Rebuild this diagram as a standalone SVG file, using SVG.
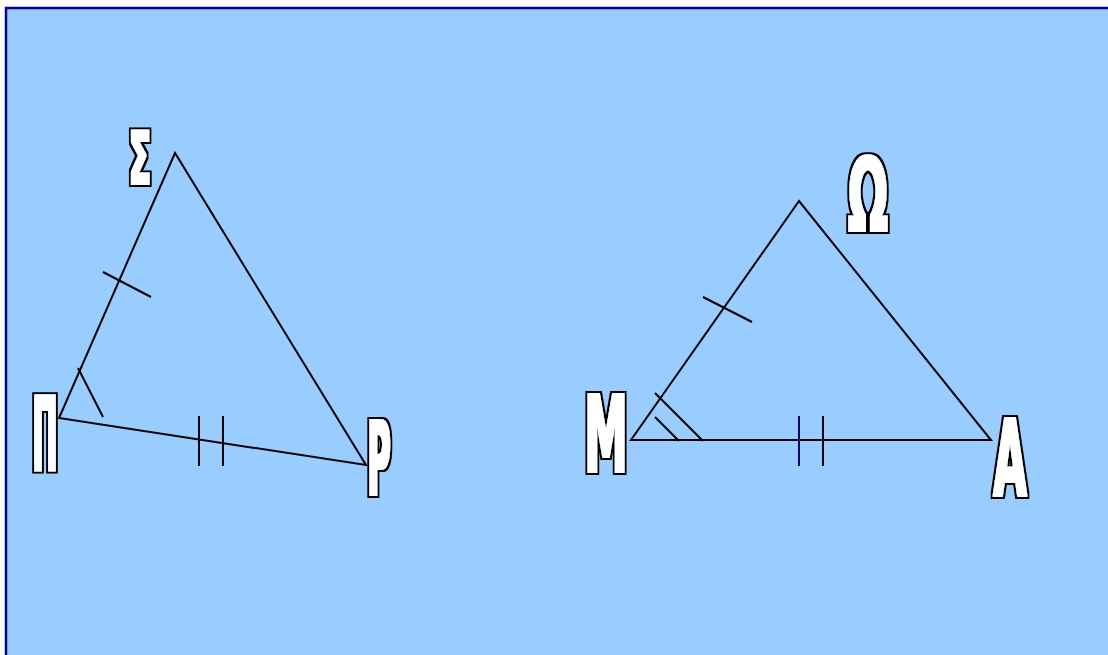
<svg xmlns="http://www.w3.org/2000/svg" width="1108" height="655" viewBox="0 0 1108 655">
<style>
.ln{stroke:#000;stroke-width:2;fill:none;stroke-linecap:butt}
.lbl{font-family:"DejaVu Sans Condensed","DejaVu Sans",sans-serif;font-weight:bold;fill:#fff;filter:url(#fat)}
</style>
<defs>
<filter id="fat" x="-30%" y="-30%" width="160%" height="160%">
<feMorphology in="SourceAlpha" operator="dilate" radius="2.5" result="o"/>
<feFlood flood-color="#000" result="k"/>
<feComposite in="k" in2="o" operator="in" result="ko"/>
<feMorphology in="SourceAlpha" operator="dilate" radius="0.7" result="i"/>
<feFlood flood-color="#fff" result="w"/>
<feComposite in="w" in2="i" operator="in" result="wi"/>
<feMerge><feMergeNode in="ko"/><feMergeNode in="wi"/></feMerge>
</filter>
</defs>
<rect x="0" y="0" width="1108" height="655" fill="#fff"/>
<rect x="6" y="8" width="1110" height="660" fill="#99CCFF" stroke="#000099" stroke-width="2.5"/>
<g id="connectors">
<polygon class="ln" points="175,153 59,418 366,465"/>
<line class="ln" x1="103" y1="272" x2="151" y2="297"/>
<line class="ln" x1="78" y1="368" x2="103" y2="417"/>
<line class="ln" x1="199" y1="416" x2="199" y2="466"/>
<line class="ln" x1="223" y1="416" x2="223" y2="466"/>
<polygon class="ln" points="799,201 631,440 991,440"/>
<line class="ln" x1="703" y1="297" x2="752" y2="322"/>
<line class="ln" x1="655" y1="393" x2="703" y2="441"/>
<line class="ln" x1="655" y1="417" x2="679" y2="441"/>
<line class="ln" x1="799" y1="416" x2="799" y2="466" style="stroke:#000066"/>
<line class="ln" x1="823" y1="416" x2="823" y2="466"/>
</g>
<g id="node-sigma"><text class="lbl" x="129" y="183.5" font-size="73" textLength="22" lengthAdjust="spacingAndGlyphs">Σ</text></g>
<g id="node-pi"><text class="lbl" x="32.5" y="470.5" font-size="103" textLength="25" lengthAdjust="spacingAndGlyphs">Π</text></g>
<g id="node-rho"><text class="lbl" x="367.5" y="494.5" font-size="103" textLength="23" lengthAdjust="spacingAndGlyphs">Ρ</text></g>
<g id="node-mu"><text class="lbl" x="584.5" y="471.5" font-size="106" textLength="43" lengthAdjust="spacingAndGlyphs">Μ</text></g>
<g id="node-omega"><text class="lbl" x="848" y="230.5" font-size="101" textLength="40" lengthAdjust="spacingAndGlyphs">Ω</text></g>
<g id="node-alpha"><text class="lbl" x="993.5" y="495.5" font-size="106" textLength="33" lengthAdjust="spacingAndGlyphs">Α</text></g>
</svg>
